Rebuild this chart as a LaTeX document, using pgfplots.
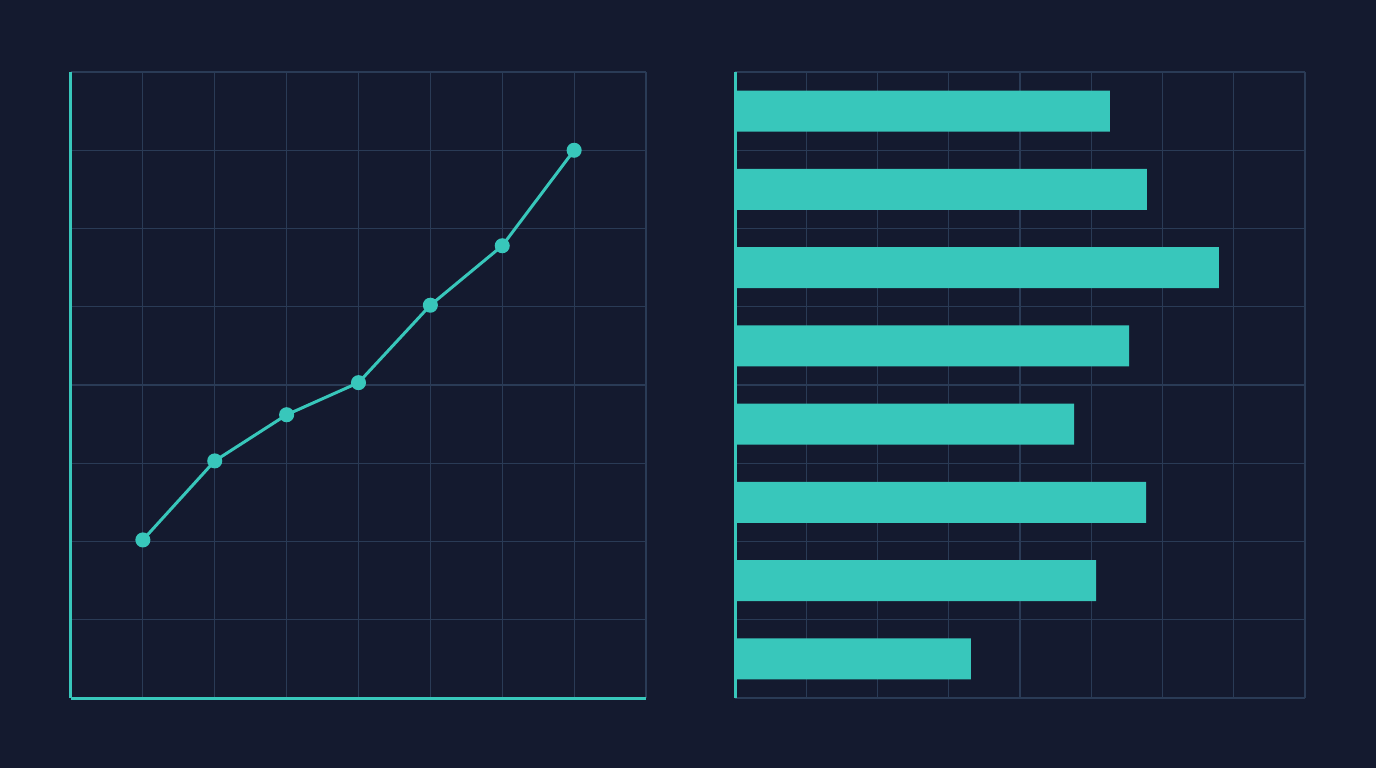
\documentclass[border=0pt]{standalone}
\usepackage{pgfplots}
\pgfplotsset{compat=1.18}
\definecolor{bg}{HTML}{141A2F}
\definecolor{gridc}{HTML}{2A3B56}
\definecolor{tealc}{HTML}{38C7BB}

\pgfplotsset{
  panel/.style={
    scale only axis,
    anchor=south west,
    xmin=0, xmax=8, ymin=0, ymax=8,
    xtick={0,...,8}, ytick={0,...,8},
    xticklabels={}, yticklabels={},
    major tick length=0pt,
    grid=major,
    grid style={gridc, line width=0.6pt},
    axis x line*=bottom, axis y line*=left,
    enlargelimits=false,
  },
}

\begin{document}
\begin{tikzpicture}
\fill[bg] (0,0) rectangle (688pt,384pt);
\useasboundingbox (0,0) rectangle (688pt,384pt);

% left panel: line chart
\begin{axis}[panel,
  at={(35.5pt,35pt)}, width=287.5pt, height=313pt,
  axis line style={tealc, line width=1.5pt, -},
  clip=false,
]
\addplot[tealc, line width=1.5pt, mark=*, mark size=3pt,
  mark options={fill=tealc, draw=tealc}] coordinates {
  (1,2.02)(2,3.03)(3,3.62)(4,4.03)(5,5.02)(6,5.78)(7,7.0)
};
\end{axis}

% right panel: horizontal bars
\begin{axis}[panel,
  at={(367.5pt,35pt)}, width=285pt, height=313pt,
  x axis line style={gridc, line width=0.6pt, -},
  y axis line style={tealc, line width=1.5pt, -},
  xbar, bar width=20.5pt,
]
\addplot[fill=tealc, draw=none] coordinates {
  (5.26,7.5)(5.78,6.5)(6.79,5.5)(5.53,4.5)(4.76,3.5)(5.77,2.5)(5.07,1.5)(3.31,0.5)
};
\end{axis}
\end{tikzpicture}
\end{document}
